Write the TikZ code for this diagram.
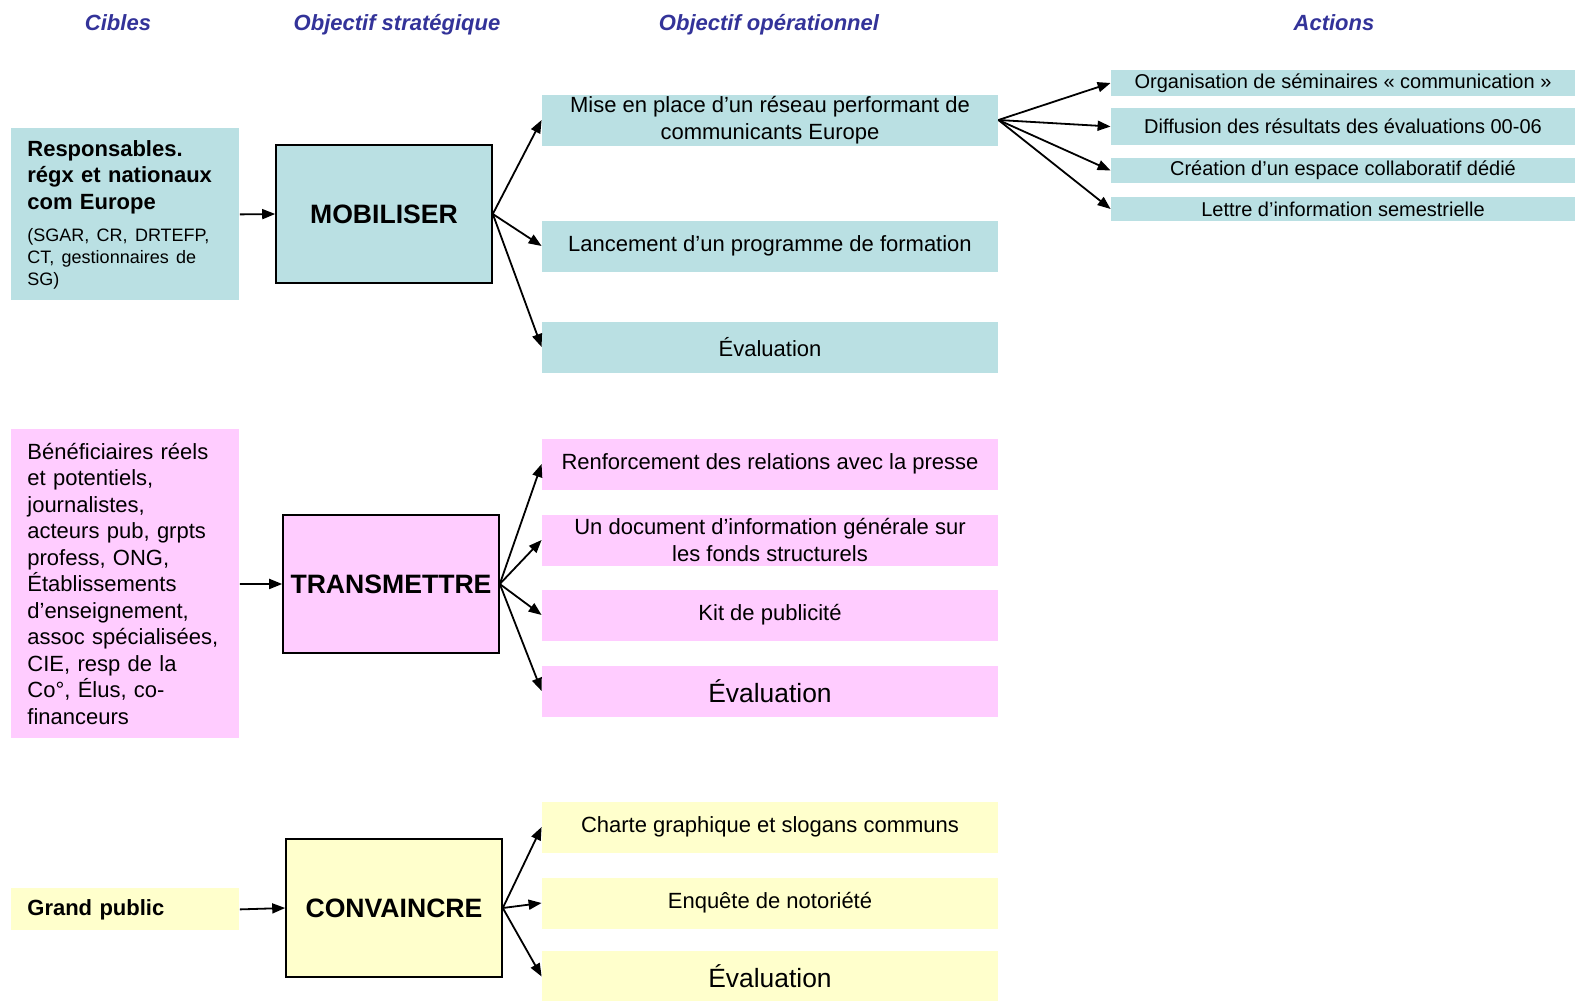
\documentclass[tikz,border=0pt]{standalone}
\usepackage{fontspec}
\setmainfont{Liberation Sans}
\usetikzlibrary{arrows.meta}
\definecolor{bleuclair}{RGB}{186,224,227}
\definecolor{rose}{RGB}{255,204,255}
\definecolor{jaune}{RGB}{255,255,204}
\definecolor{titrebleu}{RGB}{51,51,153}
\newcommand{\taille}[2]{\fontsize{#1}{#2}\selectfont}
\begin{document}
\begin{tikzpicture}[x=0.5pt, y=-0.5pt, font=\taille{11}{13.25},
  titre/.style={text=titrebleu, anchor=base, font=\bfseries\itshape\taille{11}{13}},
  cible/.style={fill=#1, anchor=north west, align=left, text width=98pt,
                inner xsep=8pt, inner ysep=0pt},
  strat/.style={draw, line width=0.8pt, fill=#1, minimum width=108pt,
                minimum height=69pt, inner sep=2pt, font=\bfseries\taille{13.3}{15}},
  ope/.style={fill=#1, minimum width=228pt, minimum height=25.5pt,
              align=center, inner sep=0pt},
  act/.style={fill=bleuclair, minimum width=232pt, inner sep=0pt,
              font=\taille{10}{12}},
  arr/.style={-{Triangle[length=6.5pt,width=5pt]}, line width=0.9pt}
]
  \useasboundingbox (0,0) rectangle (1575,1001);
  % En-tetes
  \node[titre] (hcib)   at (118,30)  {Cibles};
  \node[titre] (hstrat) at (397,30)  {Objectif stratégique};
  \node[titre] (hope)   at (769,30)  {Objectif opérationnel};
  \node[titre] (hact)   at (1334,30) {Actions};
  % Cibles
  \node[cible=bleuclair, minimum height=86pt] (cib1) at (11,128)
       {{\raggedright\bfseries Responsables.\\régx et nationaux\\com Europe\par}\vskip 5pt
        {\raggedright\taille{9}{11}(SGAR, CR, DRTEFP,\\CT, gestionnaires de\\SG)\par}};
  \node[cible=rose, minimum height=154.5pt] (cib2) at (11,429)
       {Bénéficiaires réels\\et potentiels,\\journalistes,\\acteurs pub, grpts\\profess, ONG,\\Établissements\\d’enseignement,\\assoc spécialisées,\\CIE, resp de la\\Co°, Élus, co-\\financeurs};
  \node[cible=jaune, minimum height=21pt, font=\bfseries\taille{11}{13}] (cib3) at (11,888)
       {Grand public};
  % Objectifs strategiques
  \node[strat=bleuclair] (mob) at (384,214) {MOBILISER};
  \node[strat=rose]      (tra) at (391,584) {TRANSMETTRE};
  \node[strat=jaune]     (con) at (394,908) {CONVAINCRE};
  % Objectifs operationnels
  \node[ope=bleuclair] (reseau)    at (770,120) {Mise en place d’un réseau performant de\\communicants Europe};
  \node[ope=bleuclair] (formation) at (770,246) {Lancement d’un programme de formation};
  \node[ope=bleuclair] (evalmob)   at (770,347) {Évaluation};
  \node[ope=rose] (presse)   at (770,464) {Renforcement des relations avec la presse};
  \node[ope=rose] (document) at (770,540) {Un document d’information générale sur\\les fonds structurels};
  \node[ope=rose] (kit)      at (770,615) {Kit de publicité};
  \node[ope=rose, font=\taille{13.2}{15}] (evaltra) at (770,691) {Évaluation};
  \node[ope=jaune] (charte)  at (770,827) {Charte graphique et slogans communs};
  \node[ope=jaune] (enquete) at (770,903) {Enquête de notoriété};
  \node[ope=jaune, font=\taille{13.2}{15}] (evalcon) at (770,976.5) {Évaluation};
  % Actions
  \node[act, minimum height=13pt]   (seminaires) at (1343,83)    {Organisation de séminaires « communication »};
  \node[act, minimum height=18.5pt] (diffusion)  at (1343,126.5) {Diffusion des résultats des évaluations 00-06};
  \node[act, minimum height=12.5pt] (espace)     at (1343,170.5) {Création d’un espace collaboratif dédié};
  \node[act, minimum height=12pt]   (lettre)     at (1343,209)   {Lettre d’information semestrielle};
  % Liaisons
  \draw[arr] (cib1.east) -- (mob.west);
  \draw[arr] (cib2.east) -- (tra.west);
  \draw[arr] (cib3.east) -- (con.west);
  \draw[arr] (mob.east) -- (reseau.west);
  \draw[arr] (mob.east) -- (formation.west);
  \draw[arr] (mob.east) -- (evalmob.west);
  \draw[arr] (tra.east) -- (presse.west);
  \draw[arr] (tra.east) -- (document.west);
  \draw[arr] (tra.east) -- (kit.west);
  \draw[arr] (tra.east) -- (evaltra.west);
  \draw[arr] (con.east) -- (charte.west);
  \draw[arr] (con.east) -- (enquete.west);
  \draw[arr] (con.east) -- (evalcon.west);
  \draw[arr] (reseau.east) -- (seminaires.west);
  \draw[arr] (reseau.east) -- (diffusion.west);
  \draw[arr] (reseau.east) -- (espace.west);
  \draw[arr] (reseau.east) -- (lettre.west);
\end{tikzpicture}
\end{document}
